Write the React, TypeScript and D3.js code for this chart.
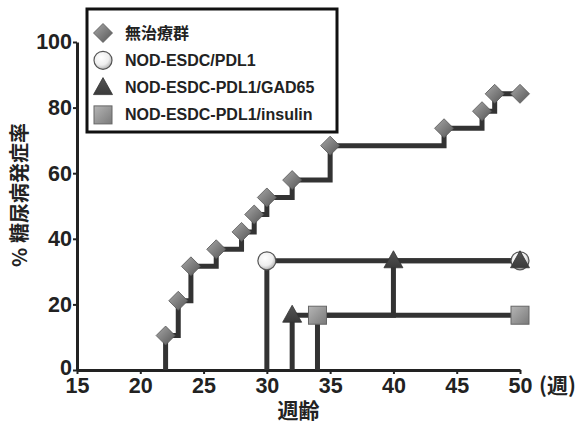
import React, { useRef, useEffect } from 'react';
import * as d3 from 'd3';

// incidence data (% diabetic) by week of age
const untreatedWeeks = [22, 23, 24, 26, 28, 29, 30, 32, 35, 44, 47, 48, 50];
const untreatedValues = [10.5, 21.1, 31.6, 36.8, 42.1, 47.4, 52.6, 57.9, 68.4, 73.7, 78.9, 84.2, 84.2];
const pdl1Weeks = [30, 50];
const pdl1Values = [33.3, 33.3];
const gadWeeks = [32, 40, 50];
const gadValues = [16.7, 33.3, 33.3];
const insulinWeeks = [34, 50];
const insulinValues = [16.7, 16.7];

const xTicks = [15, 20, 25, 30, 35, 40, 45, 50];
const yTicks = [0, 20, 40, 60, 80, 100];
const legendLabels = ['無治療群', 'NOD-ESDC/PDL1', 'NOD-ESDC-PDL1/GAD65', 'NOD-ESDC-PDL1/insulin'];

const W = 576, H = 425;
const font = '"Liberation Sans", Arial, sans-serif';
const cjkFont = '"Noto Sans CJK JP", "Liberation Sans", sans-serif';

const x = d3.scaleLinear().domain([15, 50]).range([77, 520]);
const y = d3.scaleLinear().domain([0, 100]).range([370, 42]);

const stepLine = d3.line<[number, number]>()
    .x(d => x(d[0]))
    .y(d => y(d[1]))
    .curve(d3.curveStepAfter);

const toPts = (weeks: number[], vals: number[]): [number, number][] => {
    const pts: [number, number][] = [[weeks[0], 0]];
    weeks.forEach((w, i) => pts.push([w, vals[i]]));
    return pts;
};

const Marker = ({ kind, cx, cy }: { kind: string, cx: number, cy: number }) => {
    if (kind === 'diamond') {
        const s = 9.5;
        return <path d={`M${cx},${cy - s}L${cx + s},${cy}L${cx},${cy + s}L${cx - s},${cy}Z`}
            fill="url(#gDia)" stroke="#555" strokeWidth={0.8} />;
    }
    if (kind === 'circle') {
        return <circle cx={cx} cy={cy} r={9} fill="url(#gCir)" stroke="#555" strokeWidth={1.2} />;
    }
    if (kind === 'triangle') {
        return <path d={`M${cx},${cy - 10}L${cx + 9.5},${cy + 7}L${cx - 9.5},${cy + 7}Z`}
            fill="url(#gTri)" stroke="#333" strokeWidth={0.8} />;
    }
    return <rect x={cx - 9} y={cy - 9} width={18} height={18} fill="url(#gSq)" stroke="#666" strokeWidth={1} />;
};

const App = () => {
    const xRef = useRef<SVGGElement>(null);
    const yRef = useRef<SVGGElement>(null);

    useEffect(() => {
        const gx = d3.select(xRef.current);
        gx.selectAll('*').remove();
        gx.call(d3.axisBottom(x).tickValues(xTicks).tickSize(4).tickSizeOuter(0).tickPadding(4).tickFormat(d3.format('d')));
        const gy = d3.select(yRef.current);
        gy.selectAll('*').remove();
        gy.call(d3.axisLeft(y).tickValues(yTicks).tickSize(4).tickSizeOuter(0).tickPadding(1).tickFormat(d3.format('d')));
        [gx, gy].forEach(g => {
            g.select('.domain').attr('stroke', '#222').attr('stroke-width', 3);
            g.selectAll('.tick line').attr('stroke', '#222').attr('stroke-width', 2);
            g.selectAll('.tick text')
                .attr('fill', '#222')
                .style('font-family', font)
                .style('font-size', '21.5px')
                .style('font-weight', 'bold');
        });
        // nudge the "0" label up a touch so it clears the "15" below it
        gy.selectAll('.tick text').filter((d: any) => d === 0).attr('dy', '0.2em');
    }, []);

    const series = [
        { kind: 'diamond', weeks: untreatedWeeks, vals: untreatedValues },
        { kind: 'circle', weeks: pdl1Weeks, vals: pdl1Values },
        { kind: 'triangle', weeks: gadWeeks, vals: gadValues },
        { kind: 'square', weeks: insulinWeeks, vals: insulinValues },
    ];
    const kinds = ['diamond', 'circle', 'triangle', 'square'];

    return (
        <svg width={W} height={H} style={{ position: 'absolute', left: 0, top: 0, background: '#fff' }}>
            <defs>
                <linearGradient id="gDia" x1="0" y1="0" x2="1" y2="1">
                    <stop offset="0" stopColor="#a8a8a8" />
                    <stop offset="1" stopColor="#555" />
                </linearGradient>
                <radialGradient id="gCir" cx="0.4" cy="0.35" r="0.7">
                    <stop offset="0" stopColor="#fff" />
                    <stop offset="0.6" stopColor="#eee" />
                    <stop offset="1" stopColor="#aaa" />
                </radialGradient>
                <linearGradient id="gTri" x1="0" y1="0" x2="0" y2="1">
                    <stop offset="0" stopColor="#555" />
                    <stop offset="1" stopColor="#3a3a3a" />
                </linearGradient>
                <linearGradient id="gSq" x1="0" y1="0" x2="1" y2="1">
                    <stop offset="0" stopColor="#b5b5b5" />
                    <stop offset="1" stopColor="#7a7a7a" />
                </linearGradient>
            </defs>

            <g ref={xRef} transform={`translate(0,${y(0)})`} />
            <g ref={yRef} transform={`translate(${x(15)},0)`} />

            {series.map((s, i) => (
                <path key={'l' + i} d={stepLine(toPts(s.weeks, s.vals)) || ''}
                    fill="none" stroke="#333" strokeWidth={5} />
            ))}
            {series.map((s, i) => (
                <g key={'m' + i}>
                    {s.weeks.map((w, j) => (
                        <Marker key={j} kind={s.kind} cx={x(w)} cy={y(s.vals[j])} />
                    ))}
                </g>
            ))}

            {/* legend */}
            <rect x={87} y={9} width={250} height={123} fill="#fff" stroke="#111" strokeWidth={3} />
            {legendLabels.map((lab, i) => {
                const ry = 33 + i * 27.3;
                return (
                    <g key={lab}>
                        <Marker kind={kinds[i]} cx={103} cy={ry} />
                        <text x={125} y={ry + 5.5} fontFamily={i === 0 ? cjkFont : font}
                            fontWeight="bold" fontSize={16} fill="#222">{lab}</text>
                    </g>
                );
            })}

            {/* axis titles */}
            <text x={539} y={393} fontFamily={cjkFont} fontWeight="bold" fontSize={21} fill="#222">(週)</text>
            <text x={x(32.5)} y={418} textAnchor="middle" fontFamily={cjkFont} fontWeight="bold"
                fontSize={21} fill="#222">週齢</text>
            <text transform={`translate(27,195) rotate(-90)`} textAnchor="middle" fontFamily={cjkFont}
                fontWeight="bold" fontSize={20} fill="#222">% 糖尿病発症率</text>
        </svg>
    );
};

export default App;
